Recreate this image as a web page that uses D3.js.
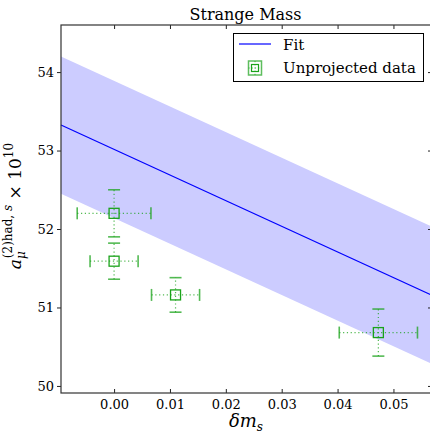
<!DOCTYPE html>
<script src="https://d3js.org/d3.v7.min.js"></script>
<body style="margin:0;background:#fff">
<div id="graph-area"></div>
<script>
    // fit (straight line) with its error band, given at the two ends of the x range
    const fitX = [-0.0095, 0.0569];
    const fitY = [53.325, 51.155];
    const fitUpper = [54.20, 52.03];
    const fitLower = [52.45, 50.28];

    // unprojected data points: x, y, x error, y error
    const pointX    = [0.0,    0.0,    0.011,  0.0473];
    const pointY    = [52.20,  51.59,  51.16,  50.68];
    const pointXErr = [0.0066, 0.0043, 0.0043, 0.0070];
    const pointYErr = [0.30,   0.23,   0.22,   0.30];

    const xTicks = [0.00, 0.01, 0.02, 0.03, 0.04, 0.05];
    const yTicks = [50, 51, 52, 53, 54];

    const w = 430;
    const h = 434;
    const margin = {left: 61, right: 432, top: 25, bottom: 393};
    const green = "#1aa31a";
    const serif = "'DejaVu Serif', serif";

    const xScale = d3.scaleLinear()
                     .domain([fitX[0], fitX[1]])
                     .range([margin.left, margin.right]);

    const yScale = d3.scaleLinear()
                     .domain([49.91, 54.6])
                     .range([margin.bottom, margin.top]);

    const svg = d3.select("#graph-area").append("svg")
                  .attr("width", w)
                  .attr("height", h)
                  .style("font-family", serif);

    const plot = svg.append("g");

    // band
    const band = fitX.map((x, i) => ({x: x, lo: fitLower[i], hi: fitUpper[i]}));
    plot.append("path")
        .datum(band)
        .attr("fill", "#ccccff")
        .attr("d", d3.area().x(d => xScale(d.x)).y0(d => yScale(d.lo)).y1(d => yScale(d.hi)));

    // fit line
    plot.append("path")
        .datum(fitX.map((x, i) => [x, fitY[i]]))
        .attr("fill", "none")
        .attr("stroke", "#0000ff")
        .attr("stroke-width", 1.2)
        .attr("d", d3.line().x(d => xScale(d[0])).y(d => yScale(d[1])));

    // error bars
    const points = pointX.map((x, i) => ({x: x, y: pointY[i], xe: pointXErr[i], ye: pointYErr[i]}));
    const eb = plot.selectAll("g.pt").data(points).enter().append("g").attr("class", "pt");

    eb.append("line")
      .attr("x1", d => xScale(d.x - d.xe)).attr("x2", d => xScale(d.x + d.xe))
      .attr("y1", d => yScale(d.y)).attr("y2", d => yScale(d.y))
      .attr("stroke", green).attr("stroke-opacity", 0.75)
      .attr("stroke-width", 1.2).attr("stroke-dasharray", "1.2,2.6");
    eb.append("line")
      .attr("x1", d => xScale(d.x)).attr("x2", d => xScale(d.x))
      .attr("y1", d => yScale(d.y - d.ye)).attr("y2", d => yScale(d.y + d.ye))
      .attr("stroke", green).attr("stroke-opacity", 0.75)
      .attr("stroke-width", 1.2).attr("stroke-dasharray", "1.2,2.6");

    // caps
    [-1, 1].forEach(s => {
        eb.append("line")
          .attr("x1", d => xScale(d.x + s * d.xe)).attr("x2", d => xScale(d.x + s * d.xe))
          .attr("y1", d => yScale(d.y) - 6).attr("y2", d => yScale(d.y) + 6)
          .attr("stroke", green).attr("stroke-opacity", 0.75).attr("stroke-width", 1.6);
        eb.append("line")
          .attr("x1", d => xScale(d.x) - 6).attr("x2", d => xScale(d.x) + 6)
          .attr("y1", d => yScale(d.y + s * d.ye)).attr("y2", d => yScale(d.y + s * d.ye))
          .attr("stroke", green).attr("stroke-opacity", 0.75).attr("stroke-width", 1.6);
    });

    eb.append("rect")
      .attr("x", d => xScale(d.x) - 5).attr("y", d => yScale(d.y) - 5)
      .attr("width", 10).attr("height", 10)
      .attr("fill", "none").attr("stroke", green).attr("stroke-width", 1.3);

    // axes (ticks inward on x, outward on y)
    const xAxisB = d3.axisBottom(xScale).tickValues(xTicks).tickFormat(d3.format(".2f"))
                     .tickSize(-4).tickPadding(7);
    const gx = svg.append("g")
       .attr("transform", "translate(0," + margin.bottom + ")")
       .call(xAxisB);
    gx.select(".domain").remove();
    gx.selectAll("text").style("font-size", "13px").style("font-family", serif).attr("fill", "#000");

    const xAxisT = d3.axisTop(xScale).tickValues(xTicks).tickFormat("").tickSize(-4);
    const gxt = svg.append("g").attr("transform", "translate(0," + margin.top + ")").call(xAxisT);
    gxt.select(".domain").remove();

    const yAxisL = d3.axisLeft(yScale).tickValues(yTicks).tickFormat(d3.format("d"))
                     .tickSize(4).tickPadding(3);
    const gy = svg.append("g")
       .attr("transform", "translate(" + margin.left + ",0)")
       .call(yAxisL);
    gy.select(".domain").remove();
    gy.selectAll("text").style("font-size", "13px").style("font-family", serif).attr("fill", "#000");

    const yAxisR = d3.axisRight(yScale).tickValues(yTicks).tickFormat("").tickSize(-4);
    const gyr = svg.append("g").attr("transform", "translate(" + margin.right + ",0)").call(yAxisR);
    gyr.select(".domain").remove();

    svg.selectAll(".tick line").attr("stroke", "#222");

    // frame
    svg.append("rect")
       .attr("x", margin.left).attr("y", margin.top)
       .attr("width", margin.right - margin.left).attr("height", margin.bottom - margin.top)
       .attr("fill", "none").attr("stroke", "#333").attr("stroke-width", 1.2);

    // title
    svg.append("text")
       .attr("x", (margin.left + 430) / 2).attr("y", 20)
       .style("text-anchor", "middle").style("font-size", "16px")
       .text("Strange Mass");

    // x axis title
    const xl = svg.append("text")
       .attr("x", 246).attr("y", 427)
       .style("text-anchor", "middle").style("font-size", "18px").style("font-style", "italic");
    xl.append("tspan").text("δm");
    xl.append("tspan").attr("dy", 4).style("font-size", "12px").text("s");

    // y axis title
    const yl = svg.append("text")
       .attr("transform", "translate(21," + 206 + ") rotate(-90)")
       .style("text-anchor", "middle").style("font-size", "17px");
    yl.append("tspan").style("font-style", "italic").text("a");
    yl.append("tspan").attr("dy", 4).style("font-size", "12px").style("font-style", "italic").text("μ");
    yl.append("tspan").attr("dx", -7).attr("dy", -13).style("font-size", "12px").text("(2)had,");
    yl.append("tspan").style("font-size", "12px").style("font-style", "italic").text(" s");
    yl.append("tspan").attr("dy", 9).text(" × 10");
    yl.append("tspan").attr("dy", -8).style("font-size", "12px").text("10");

    // legend
    const lg = svg.append("g");
    lg.append("rect").attr("x", 233.5).attr("y", 33.5).attr("width", 190).attr("height", 48)
      .attr("fill", "#fff").attr("stroke", "#000").attr("stroke-width", 1);
    lg.append("line").attr("x1", 239).attr("x2", 271).attr("y1", 44).attr("y2", 44)
      .attr("stroke", "#0000ff").attr("stroke-width", 1.2);
    lg.append("text").attr("x", 283).attr("y", 50).style("font-size", "15px").text("Fit");
    lg.append("rect").attr("x", 248.5).attr("y", 61).attr("width", 13).attr("height", 14)
      .attr("fill", "none").attr("stroke", green).attr("stroke-opacity", 0.7).attr("stroke-width", 1.5);
    lg.append("line").attr("x1", 255).attr("x2", 255).attr("y1", 61).attr("y2", 75)
      .attr("stroke", green).attr("stroke-opacity", 0.7).attr("stroke-dasharray", "1.2,2");
    lg.append("line").attr("x1", 248.5).attr("x2", 261.5).attr("y1", 68).attr("y2", 68)
      .attr("stroke", green).attr("stroke-opacity", 0.7).attr("stroke-dasharray", "1.2,2");
    lg.append("rect").attr("x", 251.5).attr("y", 64.5).attr("width", 7).attr("height", 7)
      .attr("fill", "none").attr("stroke", green).attr("stroke-width", 1.2);
    lg.append("text").attr("x", 283).attr("y", 73).style("font-size", "15px").text("Unprojected data");
</script>
</body>
